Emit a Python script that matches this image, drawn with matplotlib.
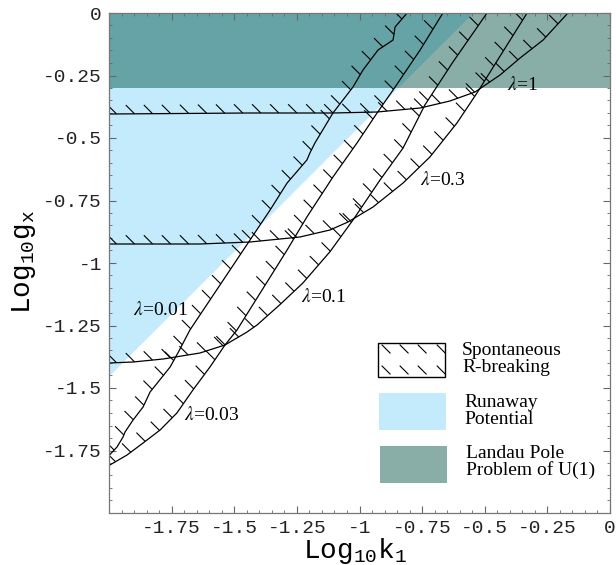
import numpy as np
import matplotlib
matplotlib.use("Agg")
import matplotlib.pyplot as plt
from matplotlib.collections import LineCollection
from matplotlib.patches import Rectangle, Polygon

plt.rcParams['mathtext.fontset'] = 'custom'
plt.rcParams['mathtext.rm'] = 'Liberation Mono'
plt.rcParams['mathtext.it'] = 'Liberation Mono'
plt.rcParams['mathtext.bf'] = 'Liberation Mono:bold'

# boundary curves of the spontaneous R-breaking region, one per lambda
k_lam001 = [-2.000, -1.968, -1.944, -1.936, -1.904, -1.864, -1.836, -1.804, -1.756, -1.725,
            -1.677, -1.437, -1.357, -1.289, -1.210, -1.198, -1.178, -1.106, -1.026, -0.986,
            -0.926, -0.866, -0.858, -0.810]
g_lam001 = [-1.770, -1.736, -1.696, -1.676, -1.628, -1.576, -1.516, -1.476, -1.416, -1.360,
            -1.268, -0.908, -0.788, -0.680, -0.588, -0.560, -0.520, -0.400, -0.296, -0.228,
            -0.148, -0.108, -0.056, 0.000]

k_lam003 = [-2.000, -1.928, -1.864, -1.796, -1.729, -1.665, -1.597, -1.537, -1.489, -1.409,
            -1.289, -1.210, -1.106, -1.010, -0.930, -0.866, -0.758, -0.667]
g_lam003 = [-1.810, -1.768, -1.720, -1.668, -1.600, -1.508, -1.416, -1.328, -1.268, -1.140,
            -0.948, -0.816, -0.656, -0.520, -0.400, -0.308, -0.148, 0.000]

k_lam01 = [-2.000, -1.904, -1.784, -1.637, -1.537, -1.449, -1.409, -1.317, -1.226, -1.118,
           -1.026, -0.918, -0.826, -0.739, -0.627, -0.491]
g_lam01 = [-1.400, -1.396, -1.384, -1.360, -1.328, -1.276, -1.248, -1.166, -1.080, -0.955,
           -0.828, -0.668, -0.540, -0.368, -0.196, 0.000]

k_lam03 = [-2.000, -1.637, -1.437, -1.238, -1.118, -1.046, -0.946, -0.826, -0.719, -0.611,
           -0.531, -0.331]
g_lam03 = [-0.924, -0.924, -0.916, -0.896, -0.868, -0.836, -0.776, -0.680, -0.576, -0.440,
           -0.320, 0.000]

k_lam1 = [-2.000, -1.437, -1.106, -0.930, -0.758, -0.639, -0.539, -0.439, -0.359, -0.267, -0.168]
g_lam1 = [-0.404, -0.400, -0.400, -0.396, -0.380, -0.352, -0.316, -0.248, -0.180, -0.108, 0.000]

lam_labels = ['$\\lambda$=0.01', '$\\lambda$=0.03', '$\\lambda$=0.1', '$\\lambda$=0.3', '$\\lambda$=1']
lam_label_k = [-1.904, -1.700, -1.232, -0.760, -0.410]
lam_label_g = [-1.188, -1.608, -1.136, -0.668, -0.290]

# runaway potential boundary (straight line) and Landau pole bound
runaway_k = [-2.0, -0.545]
runaway_g = [-1.455, 0.0]
landau_g = -0.3

xticks = [-1.75, -1.5, -1.25, -1, -0.75, -0.5, -0.25, 0]
xticklabels = ['-1.75', '-1.5', '-1.25', '-1', '-0.75', '-0.5', '-0.25', '0']
yticks = [-1.75, -1.5, -1.25, -1, -0.75, -0.5, -0.25, 0]
yticklabels = ['-1.75', '-1.5', '-1.25', '-1', '-0.75', '-0.5', '-0.25', '0']

BLUE = '#c4ebfb'
LANDAU = '#89aea8'
OVERLAP = '#66a3a6'


def hatch_segments(xs, ys, step=0.072, size=0.035, start=0.03):
    """short '\\' strokes on the upper-left side of a curve"""
    xs = np.asarray(xs)
    ys = np.asarray(ys)
    s = np.concatenate([[0], np.cumsum(np.hypot(np.diff(xs), np.diff(ys)))])
    t = np.arange(start, s[-1], step)
    hx = np.interp(t, s, xs)
    hy = np.interp(t, s, ys)
    return [[(x, y), (x - size, y + size)] for x, y in zip(hx, hy)]


fig = plt.figure(figsize=(6.16, 5.65), dpi=100)
ax = fig.add_axes([109 / 616, 52 / 565, 501 / 616, 500 / 565])
ax.set_xlim(-2, 0)
ax.set_ylim(-2, 0)

# regions
kc = np.interp(landau_g, runaway_g, runaway_k)
ax.add_patch(Polygon([(-2, runaway_g[0]), (kc, landau_g), (-2, landau_g)],
                     closed=True, facecolor=BLUE, edgecolor='none', zorder=1))
ax.add_patch(Rectangle((-2, landau_g), 2, -landau_g, facecolor=LANDAU, edgecolor='none', zorder=1))
ax.add_patch(Polygon([(-2, landau_g), (kc, landau_g), (runaway_k[1], runaway_g[1]), (-2, 0)],
                     closed=True, facecolor=OVERLAP, edgecolor='none', zorder=1))

# curves with hatching
for ks, gs in [(k_lam001, g_lam001), (k_lam003, g_lam003), (k_lam01, g_lam01),
               (k_lam03, g_lam03), (k_lam1, g_lam1)]:
    ax.plot(ks, gs, color='black', lw=0.9, zorder=3)
    lc = LineCollection(hatch_segments(ks, gs), colors='black', linewidths=0.8, zorder=3)
    ax.add_collection(lc)

for lab, x, y in zip(lam_labels, lam_label_k, lam_label_g):
    ax.text(x, y, lab, fontsize=14, family='Liberation Serif', math_fontfamily='stix',
            ha='left', va='center', zorder=4)

# ticks
ax.set_xticks(xticks)
ax.set_xticklabels(xticklabels, family='Liberation Mono', fontsize=14)
ax.set_yticks(yticks)
ax.set_yticklabels(yticklabels, family='Liberation Mono', fontsize=14)
ax.xaxis.set_minor_locator(plt.MultipleLocator(0.05))
ax.yaxis.set_minor_locator(plt.MultipleLocator(0.05))
ax.tick_params(which='both', direction='in', top=True, right=True, color='#666666')
ax.tick_params(which='major', length=5, width=0.8, pad=5, labelcolor='#222222')
ax.tick_params(which='minor', length=2.5, width=0.6)
for sp in ax.spines.values():
    sp.set_color('#777777')
    sp.set_linewidth(0.9)
    sp.set_zorder(5)

fig.text(355 / 616, 1 - 551 / 565, 'Log$_{10}$k$_1$', family='Liberation Mono', fontsize=20,
         ha='center', va='center')
fig.text(24 / 616, 1 - 262 / 565, 'Log$_{10}$g$_x$', family='Liberation Mono', fontsize=20,
         ha='center', va='center', rotation=90)

# legend, drawn by hand in axes fractions
tr = ax.transAxes
ax.add_patch(Rectangle((0.537, 0.272), 0.134, 0.068, transform=tr, facecolor='white',
                       edgecolor='black', lw=1.0, zorder=6))
for hx in [0.545, 0.581, 0.617, 0.655]:
    for hy in [0.336, 0.294]:
        ax.plot([hx, hx + 0.016], [hy, hy - 0.016], transform=tr, color='black', lw=0.8, zorder=7)
ax.add_patch(Rectangle((0.539, 0.166), 0.134, 0.074, transform=tr, facecolor=BLUE,
                       edgecolor='none', zorder=6))
ax.add_patch(Rectangle((0.541, 0.060), 0.134, 0.074, transform=tr, facecolor=LANDAU,
                       edgecolor='none', zorder=6))
ax.text(0.705, 0.308, 'Spontaneous\nR-breaking', transform=tr, family='Liberation Serif',
        fontsize=14, ha='left', va='center', linespacing=1.0, zorder=7)
ax.text(0.709, 0.204, 'Runaway\nPotential', transform=tr, family='Liberation Serif',
        fontsize=14, ha='left', va='center', linespacing=1.0, zorder=7)
ax.text(0.713, 0.102, 'Landau Pole\nProblem of U(1)', transform=tr, family='Liberation Serif',
        fontsize=14, ha='left', va='center', linespacing=1.0, zorder=7)

fig.savefig('out.png', dpi=100)
